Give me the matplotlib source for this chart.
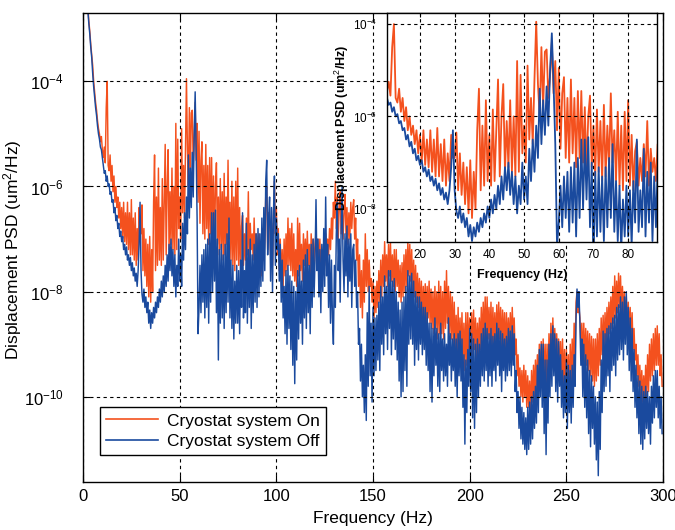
import numpy as np
import matplotlib
matplotlib.use('Agg')
import matplotlib.pyplot as plt
from matplotlib.ticker import FixedLocator, NullLocator

plt.rcParams['font.family'] = ['Liberation Sans', 'DejaVu Sans']
plt.rcParams['mathtext.fontset'] = 'custom'
plt.rcParams['mathtext.rm'] = 'Liberation Sans'
plt.rcParams['mathtext.it'] = 'Liberation Sans:italic'
plt.rcParams['mathtext.bf'] = 'Liberation Sans:bold'

F_START = 2.0
F_STEP = 0.5

psd_on_exp = [
    -2.3, -2.6, -2.85, -3.05, -3.3, -3.5, -3.7, -4.0, -4.2, -4.4, -4.55, -4.75, -4.9, -5.0, -5.15, -5.05,
    -5.3, -5.45, -5.25, -5.55, -4.5, -4.0, -5.6, -5.7, -5.4, -5.9, -5.6, -6.1, -5.8, -6.3, -6.0, -6.4, -6.2, -6.6, -6.3, -6.8,
    -6.4, -7.0, -6.3, -7.05, -6.5, -7.1, -6.3, -7.2, -6.5, -7.3, -6.25, -7.3, -6.6, -7.4, -6.5, -7.5, -6.8, -7.4, -6.4, -6.9,
    -6.9, -6.35, -7.6, -6.8, -7.7, -7.0, -7.9, -7.1, -8.1, -6.95, -8.2, -7.2, -8.0, -6.3, -5.4, -7.6, -6.2, -7.5, -5.65, -7.4,
    -6.4, -7.5, -5.85, -7.4, -6.3, -5.2, -7.3, -6.0, -5.3, -7.2, -6.1, -7.1, -5.65, -7.2, -6.0, -7.3, -4.8, -7.2, -5.1, -6.8,
    -6.2, -7.0, -4.9, -6.5, -5.6, -6.6, -5.2, -3.95, -5.3, -6.0, -4.5, -5.8, -4.6, -4.55, -5.6, -5.1, -4.4, -5.5, -4.8, -6.3,
    -4.95, -6.7, -5.5, -5.15, -6.9, -5.6, -7.0, -5.2, -6.8, -5.6, -7.1, -5.45, -6.9, -5.45, -7.0, -5.8, -7.2, -6.0, -5.55, -7.1,
    -6.2, -7.3, -5.85, -7.2, -6.1, -7.4, -5.75, -7.3, -6.2, -7.1, -5.5, -7.0, -6.3, -7.4, -5.9, -7.5, -6.2, -7.6, -5.9, -7.4,
    -5.65, -7.5, -6.4, -7.6, -6.75, -6.55, -7.5, -6.9, -7.4, -6.6, -7.3, -6.1, -7.5, -6.7, -7.2, -6.9, -7.4, -6.6, -7.3, -6.9,
    -7.0, -7.6, -6.9, -7.5, -7.1, -7.7, -6.8, -7.4, -7.0, -6.2, -6.0, -7.2, -6.5, -6.6, -7.3, -6.7, -7.5, -6.6, -5.9, -6.9,
    -6.4, -7.3, -6.8, -7.6, -7.0, -7.8, -7.2, -7.9, -7.0, -7.7, -6.9, -7.6, -6.6, -7.5, -6.8, -7.6, -6.7, -7.7, -6.9, -7.8,
    -7.2, -7.9, -6.6, -7.7, -6.7, -7.6, -7.1, -7.8, -6.9, -7.5, -7.0, -7.6, -6.85, -7.5, -7.1, -7.7, -6.9, -7.4, -7.0, -7.6,
    -7.1, -6.9, -7.3, -7.0, -7.5, -7.0, -7.6, -7.2, -7.4, -7.1, -7.5, -6.9, -7.4, -7.0, -7.3, -6.8, -7.2, -6.6, -7.0, -6.3,
    -6.6, -5.9, -6.8, -6.2, -7.0, -6.4, -6.1, -6.9, -6.3, -7.0, -6.5, -6.15, -6.9, -6.4, -7.1, -6.5, -7.0, -6.3, -6.8, -6.4,
    -6.25, -7.0, -6.6, -7.4, -7.0, -7.9, -7.3, -8.3, -7.6, -8.5, -7.4, -8.2, -6.9, -7.9, -7.2, -8.0, -7.4, -7.9, -7.75, -8.2,
    -7.8, -8.5, -7.9, -8.4, -7.8, -8.3, -7.6, -8.2, -7.4, -8.1, -7.3, -7.9, -7.05, -7.8, -7.3, -7.9, -7.1, -7.7, -7.05, -7.8,
    -7.3, -7.9, -7.2, -8.0, -7.2, -7.9, -7.4, -8.1, -7.5, -8.2, -7.45, -8.1, -7.3, -8.0, -7.2, -7.9, -7.05, -7.7, -7.1, -7.8,
    -7.2, -8.0, -7.4, -8.1, -7.5, -8.2, -7.65, -8.3, -7.75, -8.4, -7.8, -8.5, -7.9, -8.5, -7.85, -8.6, -7.9, -8.5, -7.8, -8.6,
    -7.95, -8.7, -8.0, -8.8, -7.9, -8.7, -8.0, -8.9, -7.8, -8.8, -7.9, -8.8, -8.0, -8.9, -7.8, -8.7, -7.6, -8.6, -7.9, -8.8,
    -8.0, -8.9, -8.1, -9.0, -8.2, -9.1, -8.45, -9.3, -8.3, -9.2, -8.5, -9.3, -8.4, -9.4, -8.6, -9.5, -8.4, -9.4, -8.4, -9.2,
    -8.5, -9.3, -8.4, -9.2, -8.35, -9.1, -8.5, -9.3, -8.6, -9.2, -8.5, -9.1, -8.3, -9.0, -8.2, -8.9, -8.1, -9.0, -8.1, -8.9,
    -8.3, -9.0, -8.2, -9.1, -8.3, -9.0, -8.4, -9.1, -8.25, -9.0, -8.2, -8.9, -8.3, -9.1, -8.35, -9.0, -8.4, -9.2, -8.4, -9.1,
    -8.5, -9.1, -8.4, -9.0, -8.3, -8.9, -8.5, -9.2, -8.9, -9.6, -9.2, -9.8, -9.45, -10.0, -9.5, -10.1, -9.4, -10.0, -9.5, -10.2,
    -9.6, -10.2, -9.7, -10.3, -9.5, -10.1, -9.4, -10.0, -9.3, -9.9, -9.2, -9.8, -9.0, -9.7, -8.95, -9.6, -8.9, -9.7, -9.0, -9.9,
    -9.0, -9.8, -8.8, -9.5, -8.6, -9.3, -8.5, -9.2, -8.7, -9.4, -8.8, -9.5, -8.9, -9.6, -8.95, -9.7, -8.9, -9.8, -9.1, -9.9,
    -9.1, -9.9, -9.2, -10.0, -9.0, -9.8, -8.9, -9.6, -8.6, -9.3, -8.2, -8.0, -8.4, -8.3, -8.5, -9.0, -8.6, -9.3, -8.6, -9.4,
    -8.7, -9.4, -8.75, -9.5, -8.8, -9.6, -8.85, -9.7, -8.9, -9.8, -8.9, -9.7, -8.8, -9.6, -8.7, -9.4, -8.5, -9.2, -8.45, -9.1,
    -8.4, -9.0, -8.3, -8.9, -8.2, -8.8, -8.1, -8.7, -7.9, -8.6, -7.7, -8.5, -7.8, -8.4, -7.65, -8.3, -7.7, -8.4, -7.9, -8.5,
    -8.0, -8.6, -8.1, -8.7, -8.2, -8.8, -8.3, -9.0, -8.4, -9.1, -8.7, -9.3, -9.0, -9.6, -9.2, -9.8, -9.4, -10.0, -9.5, -10.1,
    -9.6, -10.1, -9.4, -10.0, -9.2, -9.9, -9.0, -9.7, -8.9, -9.6, -8.8, -9.5, -8.7, -9.4, -8.65, -9.4, -8.8, -9.6, -9.2, -9.8,
]

psd_off_exp = [
    -2.3, -2.65, -2.9, -3.1, -3.35, -3.55, -3.85, -4.1, -4.3, -4.5, -4.65, -4.85, -5.0, -5.1, -5.25, -5.3,
    -5.45, -5.6, -5.75, -5.7, -5.9, -5.8, -6.0, -5.95, -6.15, -6.1, -6.3, -6.25, -6.5, -6.4, -6.65, -6.55, -6.8, -6.7, -6.95, -6.85,
    -7.05, -6.95, -7.2, -7.1, -7.3, -7.15, -7.4, -7.3, -7.5, -7.35, -7.6, -7.45, -7.7, -7.55, -7.8, -7.65, -7.9, -7.6, -7.1, -6.3,
    -7.6, -8.05, -8.2, -7.95, -8.3, -8.1, -8.4, -8.2, -8.6, -8.35, -8.7, -8.4, -8.6, -8.3, -8.5, -8.2, -8.4, -8.1, -8.3, -7.95,
    -8.2, -7.8, -8.1, -7.7, -8.0, -7.5, -7.9, -7.3, -7.8, -7.1, -7.6, -7.0, -7.7, -7.2, -7.9, -7.3, -8.1, -7.5, -7.9, -7.0,
    -7.8, -7.3, -7.9, -6.7, -7.4, -6.5, -7.2, -6.2, -6.9, -5.4, -6.6, -5.65, -6.4, -5.35, -6.2, -5.0, -4.2, -5.3, -6.6, -8.8,
    -8.3, -7.5, -8.4, -7.3, -8.2, -7.2, -8.5, -7.1, -8.3, -7.0, -8.6, -6.9, -8.2, -6.5, -8.0, -6.5, -7.8, -6.45, -8.4, -7.0,
    -9.3, -7.2, -8.6, -7.1, -8.5, -7.3, -8.7, -7.1, -8.4, -6.9, -8.2, -6.6, -8.5, -7.4, -8.7, -7.5, -8.9, -7.8, -8.6, -7.5,
    -8.6, -7.6, -8.8, -7.4, -8.3, -6.5, -8.5, -7.6, -8.4, -6.7, -8.6, -7.2, -8.3, -7.0, -8.7, -7.3, -8.4, -7.1, -8.2, -6.9,
    -8.3, -6.8, -8.1, -6.9, -7.9, -6.6, -7.8, -6.4, -7.6, -5.9, -5.5, -7.3, -6.6, -6.2, -7.8, -6.4, -8.0, -6.5, -5.8, -7.5,
    -6.6, -7.2, -6.9, -7.8, -7.1, -8.2, -7.4, -8.5, -7.9, -8.8, -7.6, -9.0, -7.5, -8.7, -7.7, -9.1, -7.8, -9.4, -7.9, -9.75,
    -8.0, -9.3, -7.6, -8.9, -7.5, -8.6, -7.8, -9.0, -7.4, -8.5, -7.3, -8.7, -7.2, -8.4, -7.5, -8.8, -7.1, -8.3, -7.0, -8.1,
    -7.4, -6.25, -7.6, -7.0, -8.1, -7.2, -8.4, -7.1, -8.0, -6.8, -7.9, -6.2, -7.7, -7.1, -8.3, -7.3, -8.6, -7.4, -8.5, -9.0,
    -7.5, -8.3, -6.9, -6.3, -7.6, -7.0, -8.2, -6.8, -6.0, -7.4, -8.0, -6.9, -7.7, -6.75, -8.1, -7.0, -7.8, -6.9, -8.3, -7.2,
    -7.1, -7.9, -7.4, -8.3, -8.0, -9.0, -8.7, -9.7, -9.0, -10.0, -9.4, -10.3, -9.2, -10.45, -8.4, -9.8, -7.9, -9.6, -8.6, -10.1,
    -8.3, -9.6, -8.5, -9.5, -8.45, -9.3, -8.2, -9.5, -7.9, -9.0, -8.1, -9.2, -7.7, -8.8, -7.9, -9.1, -7.6, -8.7, -7.6, -9.2,
    -7.8, -8.9, -7.75, -9.1, -8.0, -9.3, -8.2, -9.7, -8.35, -10.0, -8.2, -9.9, -8.1, -9.5, -7.9, -9.8, -7.6, -9.0, -7.7, -8.9,
    -7.65, -9.0, -7.8, -9.4, -8.0, -9.1, -8.1, -9.3, -8.1, -9.0, -8.2, -9.2, -8.3, -9.1, -8.3, -9.4, -8.4, -9.5, -8.6, -9.9,
    -8.6, -10.1, -8.7, -9.6, -8.5, -9.4, -8.7, -9.8, -8.8, -9.9, -8.6, -9.5, -8.9, -9.7, -8.8, -9.6, -9.0, -9.8, -8.5, -9.4,
    -8.8, -9.7, -8.9, -9.5, -8.8, -9.8, -8.9, -10.0, -8.8, -9.6, -8.75, -9.7, -8.9, -10.2, -9.2, -10.9, -9.3, -10.3, -9.1, -9.8,
    -8.7, -9.9, -8.8, -10.4, -8.9, -10.6, -9.0, -10.3, -8.9, -10.0, -9.0, -9.8, -8.8, -9.6, -8.7, -9.7, -8.6, -9.5, -8.7, -9.8,
    -8.8, -9.6, -8.7, -9.8, -8.85, -9.5, -8.8, -9.7, -8.6, -9.4, -8.7, -9.6, -8.75, -9.9, -8.8, -9.5, -8.9, -9.7, -8.85, -9.6,
    -8.7, -9.5, -8.75, -9.6, -8.65, -9.4, -8.8, -9.9, -9.5, -10.3, -9.9, -10.6, -10.0, -10.8, -10.2, -10.9, -10.3, -11.0, -10.4, -11.1,
    -10.2, -11.0, -10.1, -10.9, -10.0, -10.8, -9.9, -10.6, -9.8, -10.5, -9.4, -10.3, -9.1, -10.0, -9.0, -10.2, -9.0, -10.7, -9.3, -11.1,
    -9.3, -10.5, -9.0, -10.0, -8.8, -9.8, -8.65, -9.6, -8.8, -9.9, -8.9, -10.1, -8.95, -9.8, -9.2, -10.2, -9.5, -10.4, -9.6, -10.3,
    -9.3, -10.6, -9.4, -10.3, -9.5, -10.5, -9.4, -10.2, -9.2, -9.8, -8.5, -7.95, -8.3, -8.0, -8.6, -9.4, -8.9, -10.0, -9.0, -10.2,
    -9.2, -10.4, -9.3, -10.7, -9.5, -10.95, -9.6, -10.6, -9.8, -10.9, -10.0, -11.2, -10.1, -11.5, -9.9, -11.0, -9.3, -10.3, -8.75, -9.9,
    -8.8, -9.8, -8.7, -9.6, -8.65, -9.9, -8.6, -9.5, -8.5, -9.4, -8.45, -9.6, -8.3, -9.3, -8.25, -9.2, -8.1, -9.1, -8.2, -9.3,
    -8.1, -9.0, -8.0, -9.2, -8.3, -9.5, -8.5, -9.7, -8.7, -9.9, -9.1, -10.2, -9.4, -10.4, -9.6, -10.7, -9.7, -10.9, -9.8, -11.0,
    -9.9, -10.8, -9.8, -10.6, -9.9, -10.7, -10.0, -10.9, -9.8, -10.5, -9.6, -10.4, -9.5, -10.2, -9.5, -10.4, -9.8, -10.6, -10.0, -10.7,
]

labels = ['Cryostat system On', 'Cryostat system Off']
x_ticks = [0, 50, 100, 150, 200, 250, 300]
y_ticks = [1e-10, 1e-8, 1e-6, 1e-4]
y_ticklabels = [r'$10^{-10}$', r'$10^{-8}$', r'$10^{-6}$', r'$10^{-4}$']
inset_x_ticks = [20, 30, 40, 50, 60, 70, 80]
inset_y_ticks = [1e-8, 1e-6, 1e-4]
inset_y_ticklabels = [r'$10^{-8}$', r'$10^{-6}$', r'$10^{-4}$']

ON_COLOR = '#f4511e'
OFF_COLOR = '#1a4a9e'
GRID_DASH = (0, (3, 3))

freq_on = F_START + F_STEP * np.arange(len(psd_on_exp))
freq_off = F_START + F_STEP * np.arange(len(psd_off_exp))
psd_on = 10.0 ** np.array(psd_on_exp)
psd_off = 10.0 ** np.array(psd_off_exp)


def draw_spectra(ax, lw):
    ax.plot(freq_on, psd_on, color=ON_COLOR, lw=lw, label=labels[0])
    ax.plot(freq_off, psd_off, color=OFF_COLOR, lw=lw, label=labels[1])
    ax.set_yscale('log')
    ax.yaxis.set_minor_locator(NullLocator())
    ax.grid(True, color='k', linestyle=GRID_DASH, linewidth=0.8)
    ax.set_axisbelow(False)
    for s in ax.spines.values():
        s.set_linewidth(1.0)


fig = plt.figure(figsize=(6.75, 5.3), dpi=100)

# main axes
ax = fig.add_axes([0.123, 0.0906, 0.8593, 0.8849])
draw_spectra(ax, 1.05)
ax.set_xlim(0, 300)
ax.set_ylim(10 ** -11.62, 10 ** -2.7)
ax.set_xticks(x_ticks)
ax.yaxis.set_major_locator(FixedLocator(y_ticks))
ax.set_yticklabels(y_ticklabels)
ax.tick_params(direction='in', top=True, right=True, length=5, labelsize=12)
ax.tick_params(axis='y', pad=14)
ax.tick_params(axis='x', pad=5)
ax.set_xlabel('Frequency (Hz)', fontsize=12.5)
ax.set_ylabel('Displacement PSD (um$^2$/Hz)', fontsize=12.5)
ax.xaxis.set_label_coords(0.5, -0.062)
ax.yaxis.set_label_coords(-0.102, 0.495)

leg = ax.legend(loc='lower left', bbox_to_anchor=(0.029, 0.0576), fontsize=12.5,
                frameon=True, fancybox=False, edgecolor='k', framealpha=1,
                handlelength=3.0, handletextpad=0.5, borderpad=0.35,
                labelspacing=0.3, borderaxespad=0)
leg.get_frame().set_linewidth(1.0)
for h in leg.get_lines():
    h.set_linewidth(1.2)

# inset zoom on 10-88 Hz
ax_in = fig.add_axes([0.5733, 0.5434, 0.4, 0.4321])
ax_in.set_facecolor('white')
draw_spectra(ax_in, 1.3)
ax_in.set_xlim(10.5, 88.3)
ax_in.set_ylim(10 ** -8.72, 10 ** -3.76)
ax_in.set_xticks(inset_x_ticks)
ax_in.yaxis.set_major_locator(FixedLocator(inset_y_ticks))
ax_in.set_yticklabels(inset_y_ticklabels)
ax_in.tick_params(direction='in', top=True, right=True, length=3, labelsize=8.5)
ax_in.tick_params(axis='y', pad=7)
ax_in.tick_params(axis='x', pad=5)
ax_in.set_xlabel('Frequency (Hz)', fontsize=9, fontweight='bold')
ax_in.set_ylabel('Displacement PSD (um$^2$/Hz)', fontsize=9, fontweight='bold')
ax_in.xaxis.set_label_coords(0.5, -0.118)
ax_in.yaxis.set_label_coords(-0.133, 0.5)

fig.savefig('out.png', dpi=100)
